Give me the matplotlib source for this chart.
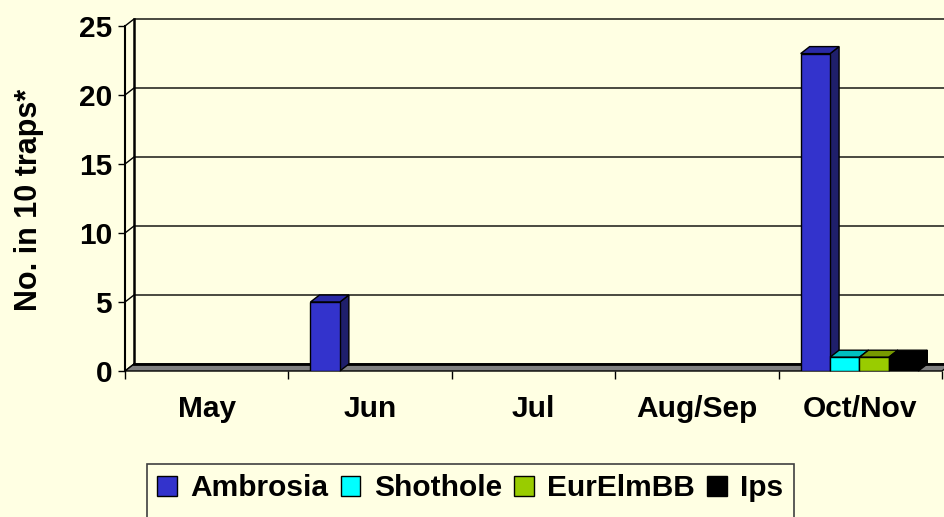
import numpy as np
import matplotlib
matplotlib.use('Agg')
import matplotlib.pyplot as plt
from matplotlib.patches import Polygon, Patch, Rectangle

plt.rcParams['font.family'] = ['Liberation Sans', 'DejaVu Sans']
plt.rcParams['font.weight'] = 'bold'

# data
months = ['May', 'Jun', 'Jul', 'Aug/Sep', 'Oct/Nov']
ambrosia = [0, 5, 0, 0, 23]
shothole = [0, 0, 0, 0, 1]
eurelmbb = [0, 0, 0, 0, 1]
ips = [0, 0, 0, 0, 1]
series_names = ['Ambrosia', 'Shothole', 'EurElmBB', 'Ips']
yticks = [0, 5, 10, 15, 20, 25]

bg = '#FFFFE3'
front_cols = ['#3333CC', '#00FFFF', '#99CC00', '#000000']
top_cols = ['#2A2AA6', '#00C0C0', '#779900', '#000000']
side_cols = ['#1F1F6B', '#008080', '#4D6600', '#000000']
fs = 21.5

fig = plt.figure(figsize=(9.45, 5.17), dpi=100, facecolor=bg)
W, H = 945, 517
ax = fig.add_axes([125 / W, 1 - 371 / H, 817 / W, 345 / H])
ax.set_facecolor('none')
ncat = len(months)
ymax = yticks[-1]
ax.set_xlim(0, ncat)
ax.set_ylim(0, ymax)

# depth of the fake 3d box, in data units (~9px right, 7px up)
dx = 9 / (817 / ncat)
dy = 7 / (345 / ymax)

# back wall + side wall gridlines
for v in yticks[1:]:
    ax.plot([0, dx, ncat + dx], [v, v + dy, v + dy], color='black', lw=1, clip_on=False, zorder=1)
ax.plot([dx, dx], [dy, ymax + dy], color='black', lw=1.8, clip_on=False, zorder=1)
ax.plot([0, dx], [0, dy], color='black', lw=1, clip_on=False, zorder=1)

# floor
floor = Polygon([(0, 0), (ncat, 0), (ncat + dx, dy), (dx, dy)], closed=True,
                facecolor='#808080', edgecolor='black', lw=1, clip_on=False, zorder=2)
ax.add_patch(floor)
ax.plot([dx, ncat + dx], [dy, dy], color='black', lw=2, clip_on=False, zorder=2)

# bars
data = [ambrosia, shothole, eurelmbb, ips]
bw = 0.18
start = 0.135
for j, vals in enumerate(data):
    for i, v in enumerate(vals):
        if v <= 0:
            continue
        x0 = i + start + j * bw
        z = 3 + j
        ax.bar(x0, v, bw, align='edge', color=front_cols[j], edgecolor='black', lw=1, zorder=z + 0.2)
        top = Polygon([(x0, v), (x0 + bw, v), (x0 + bw + dx, v + dy), (x0 + dx, v + dy)],
                      closed=True, facecolor=top_cols[j], edgecolor='black', lw=1, zorder=z, clip_on=False)
        side = Polygon([(x0 + bw, 0), (x0 + bw, v), (x0 + bw + dx, v + dy), (x0 + bw + dx, dy)],
                       closed=True, facecolor=side_cols[j], edgecolor='black', lw=1, zorder=z, clip_on=False)
        ax.add_patch(side)
        ax.add_patch(top)

# axes styling
for s in ['top', 'right', 'bottom']:
    ax.spines[s].set_visible(False)
ax.spines['left'].set_linewidth(1.5)
ax.spines['left'].set_zorder(10)
ax.set_yticks(yticks)
ax.set_yticklabels([str(t) for t in yticks], fontsize=fs, fontweight='bold')
ax.tick_params(axis='y', length=5, width=1, pad=4.3, direction='out')
ax.set_xticks(np.arange(ncat + 1))
ax.set_xticklabels([])
ax.tick_params(axis='x', which='major', length=6, width=1, direction='out')
ax.set_xticks(np.arange(ncat) + 0.5, minor=True)
ax.set_xticklabels(months, minor=True, fontsize=fs, fontweight='bold')
ax.tick_params(axis='x', which='minor', length=0, pad=17.5)

fig.text(29 / W, 1 - 200 / H, 'No. in 10 traps*', rotation=90, ha='center', va='center',
         fontsize=22, fontweight='bold')

handles = [Patch(facecolor=c, edgecolor='black', lw=1) for c in front_cols]
leg = fig.legend(handles, series_names, loc='upper left', bbox_to_anchor=(147 / W, 1 - 464 / H),
                 ncol=4, fontsize=fs, frameon=False, borderpad=0.35,
                 handlelength=0.65, handleheight=0.65, handletextpad=0.45, columnspacing=0.42,
                 borderaxespad=0)
for t in leg.get_texts():
    t.set_fontweight('bold')

# legend box runs off the bottom of the picture, like the original
fig.canvas.draw()
lb = leg.get_window_extent()
x1 = lb.x1 / W
frame = Rectangle((147 / W, -0.05), x1 - 147 / W, (1 - 464 / H) + 0.05, transform=fig.transFigure,
                  facecolor='none', edgecolor='#404040', lw=1.2)
fig.add_artist(frame)

fig.savefig('out.png', dpi=100, facecolor=bg)
